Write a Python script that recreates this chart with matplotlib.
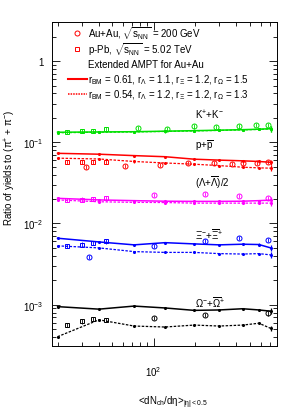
import numpy as np
import matplotlib
matplotlib.use("Agg")
import matplotlib.pyplot as plt
from matplotlib.lines import Line2D

plt.rcParams["font.family"] = ["Liberation Sans", "DejaVu Sans"]
plt.rcParams["mathtext.fontset"] = "custom"
plt.rcParams["mathtext.rm"] = "Liberation Sans"
plt.rcParams["mathtext.it"] = "Liberation Sans:italic"
plt.rcParams["mathtext.default"] = "regular"

# AMPT model centrality points (dNch/deta)
x_model = [20, 40, 72, 121, 197, 300, 444, 583, 710]

# p-Pb 5.02 TeV multiplicities (squares)
x_ppb = [23.4, 30.3, 36.1, 45.1]

# ---- K+K- ----
k_solid = [0.133, 0.134, 0.135, 0.137, 0.139, 0.141, 0.143, 0.145, 0.147]
k_dash = [0.131, 0.133, 0.134, 0.136, 0.138, 0.140, 0.142, 0.144, 0.146]
k_ppb = [0.133, 0.139, 0.139, 0.144]
k_auau_x = [77.4, 124.5, 197, 284, 420, 555, 682]
k_auau = [0.150, 0.146, 0.157, 0.154, 0.157, 0.163, 0.163]

# ---- p+pbar ----
p_solid = [0.0731, 0.0713, 0.0685, 0.0664, 0.0619, 0.0603, 0.0591, 0.0580, 0.0567]
p_dash = [0.0637, 0.0623, 0.0580, 0.0556, 0.0537, 0.0516, 0.0493, 0.0484, 0.0480]
p_ppb = [0.0567, 0.0567, 0.0567, 0.0567]
p_auau_x = [32.1, 62, 111, 177, 275, 370, 449, 561, 682]
p_auau = [0.0493, 0.0506, 0.0531, 0.0552, 0.0552, 0.0546, 0.0552, 0.0556, 0.0567]

# ---- (Lambda+Lambdabar)/2 ----
l_solid = [0.0204, 0.0195, 0.0191, 0.0188, 0.0187, 0.0187, 0.0188, 0.0191, 0.0194]
l_dash = [0.0195, 0.0185, 0.0182, 0.0181, 0.0178, 0.0178, 0.0178, 0.0178, 0.0178]
l_ppb = [0.0195, 0.0197, 0.0201, 0.0204]
l_auau_x = [101, 236, 420, 682]
l_auau = [0.0226, 0.0232, 0.0216, 0.0206]

# ---- Xi ----
xi_solid = [0.00658, 0.00592, 0.00545, 0.00580, 0.00560, 0.00545, 0.00555, 0.00550, 0.00500]
xi_dash = [0.00530, 0.00500, 0.00450, 0.00440, 0.00440, 0.00425, 0.00420, 0.00425, 0.00410]
xi_ppb = [0.00524, 0.00550, 0.00578, 0.00600]
xi_auau_x = [34, 101, 236, 420, 682]
xi_auau = [0.00390, 0.00524, 0.00605, 0.00660, 0.00630]

# ---- Omega ----
om_solid = [0.000945, 0.000880, 0.000960, 0.000910, 0.000850, 0.000860, 0.000890, 0.000860, 0.000830]
om_dash = [0.000403, 0.000650, 0.000545, 0.000530, 0.000560, 0.000545, 0.000560, 0.000590, 0.000510]
om_ppb = [0.00056, 0.00062, 0.00066, 0.00065]
om_auau_x = [101, 236, 682]
om_auau = [0.00068, 0.00074, 0.00078]

species = [
    ("#00e000", k_solid, k_dash, k_ppb, k_auau_x, k_auau),
    ("red", p_solid, p_dash, p_ppb, p_auau_x, p_auau),
    ("magenta", l_solid, l_dash, l_ppb, l_auau_x, l_auau),
    ("blue", xi_solid, xi_dash, xi_ppb, xi_auau_x, xi_auau),
    ("black", om_solid, om_dash, om_ppb, om_auau_x, om_auau),
]

species_labels = [
    r"K$^{+}$+K$^{-}$",
    r"p+$\overline{\rm p}$",
    r"($\Lambda$+$\overline{\Lambda}$)/2",
    r"$\Xi^{-}$+$\overline{\Xi}^{+}$",
    r"$\Omega^{-}$+$\overline{\Omega}^{+}$",
]

legend_labels = [
    r"Au+Au, $\sqrt{s_{\rm NN}}$ = 200 GeV",
    r"p-Pb, $\sqrt{s_{\rm NN}}$ = 5.02 TeV",
    "Extended AMPT for Au+Au",
    r"r$_{BM}$ = 0.61, r$_{\Lambda}$ = 1.1, r$_{\Xi}$ = 1.2, r$_{\Omega}$ = 1.5",
    r"r$_{BM}$ = 0.54, r$_{\Lambda}$ = 1.2, r$_{\Xi}$ = 1.2, r$_{\Omega}$ = 1.3",
]

fig = plt.figure(figsize=(3.02, 4.10), dpi=100)
ax = fig.add_axes([0.172, 0.153, 0.746, 0.790])

dash = (0, (2.0, 1.2))
for col, sol, das, ppb, ax_x, aa in species:
    sol = np.array(sol)
    das = np.array(das)
    err_s = sol * 0.03
    err_s[-1] = sol[-1] * 0.08
    err_d = das * 0.03
    err_d[-1] = das[-1] * 0.08
    ax.errorbar(x_model, sol, yerr=err_s, color=col, lw=1.1, elinewidth=0.9,
                capsize=0, marker="o", ms=1.2)
    ax.errorbar(x_model, das, yerr=err_d, color=col, lw=0.9, ls=dash,
                elinewidth=0.9, capsize=0, marker="o", ms=1.2)
    ppb = np.array(ppb)
    aa = np.array(aa)
    ax.errorbar(x_ppb, ppb, yerr=ppb * 0.06, fmt="s", ms=3.2, mfc="none",
                mec=col, mew=0.7, ecolor=col, elinewidth=0.6, capsize=0)
    ax.errorbar(ax_x, aa, yerr=aa * 0.06, fmt="o", ms=3.6, mfc="none",
                mec=col, mew=0.7, ecolor=col, elinewidth=0.6, capsize=0)

ax.set_xscale("log")
ax.set_yscale("log")
ax.set_xlim(18.2, 792)
ax.set_ylim(3.07e-4, 3.0)

ax.set_xticks([100])
ax.set_xticklabels([r"$10^{2}$"])
ax.set_yticks([1e-3, 1e-2, 1e-1, 1])
ax.set_yticklabels([r"$10^{-3}$", r"$10^{-2}$", r"$10^{-1}$", "1"])
ax.tick_params(which="both", direction="in", top=True, right=True, labelsize=7)
ax.tick_params(which="major", length=6, width=0.6)
ax.tick_params(which="minor", length=3, width=0.6)
ax.tick_params(axis="x", which="major", pad=13)
ax.tick_params(axis="y", which="major", pad=6)
for s in ax.spines.values():
    s.set_linewidth(0.7)

# species names next to each group of curves
label_y = [0.717, 0.624, 0.507, 0.347, 0.137]
for yy, lab in zip(label_y, species_labels):
    ax.text(0.636, yy, lab, transform=ax.transAxes, fontsize=7, va="center")

ax.set_ylabel(r"Ratio of yields to ($\pi^{+}$ + $\pi^{-}$)", fontsize=7)
ax.yaxis.set_label_coords(-0.15, 0.552)
ax.set_xlabel(r"<dN$_{ch}$/d$\eta$>$_{|\eta|<0.5}$", fontsize=7)
ax.xaxis.set_label_coords(0.535, -0.145)

# legend drawn row by row so the spacing is even
rows = [0.967, 0.918, 0.872, 0.825, 0.779]
tr = ax.transAxes
ax.add_line(Line2D([0.112], [rows[0]], transform=tr, ls="none", marker="o", ms=3.6,
                   color="red", mfc="none", mec="red", mew=0.7))
ax.add_line(Line2D([0.112], [rows[1]], transform=tr, ls="none", marker="s", ms=3.2,
                   color="red", mfc="none", mec="red", mew=0.7))
ax.add_line(Line2D([0.072, 0.156], [rows[3], rows[3]], transform=tr, color="red", lw=1.5))
ax.add_line(Line2D([0.072, 0.156], [rows[4], rows[4]], transform=tr, color="red", lw=1.1,
                   ls=(0, (1.0, 0.7))))
for yy, lab in zip(rows, legend_labels):
    ax.text(0.161, yy, lab, transform=tr, fontsize=7, va="center", ha="left")

fig.savefig("out.png", dpi=100)
